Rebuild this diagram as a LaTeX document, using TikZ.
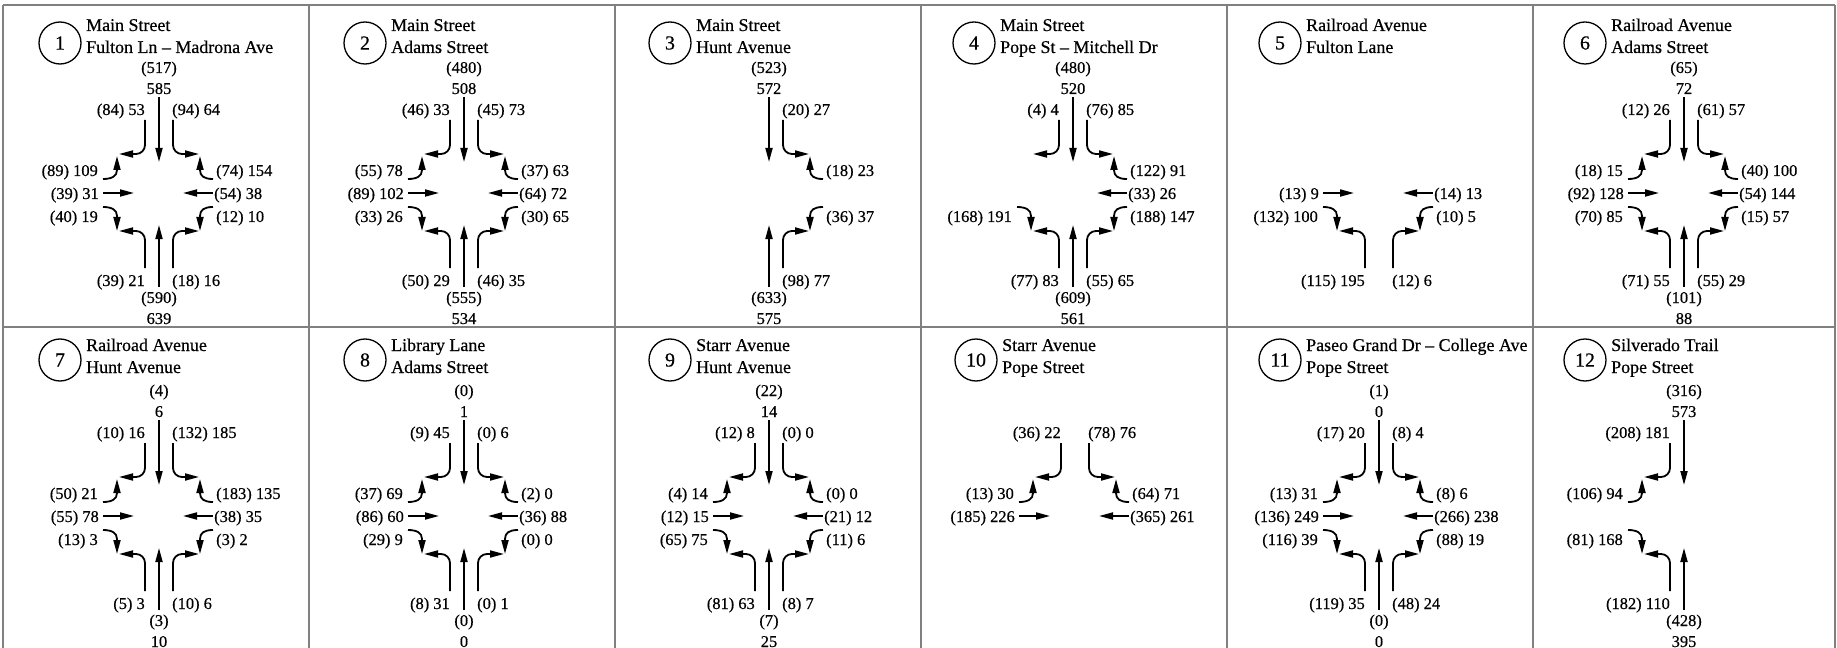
\documentclass[tikz,border=0pt]{standalone}
\usepackage{fontspec}
\setmainfont[FakeBold=0.5]{Liberation Serif}
\usetikzlibrary{arrows.meta}
\newcommand\vfnum{\fontsize{16.5}{19}\selectfont}
\newcommand\vftitle{\fontsize{18}{21}\selectfont}
\newcommand\vfcirc{\fontsize{20}{22}\selectfont}
\tikzset{
  mv/.style={line width=1.8bp,-{Triangle[length=14bp,width=7bp]}},
  lbl/.style={font=\vfnum,inner sep=0pt},
  gridline/.style={draw=black!50,line width=2bp},
  ring/.style={draw,circle,line width=1.3bp,minimum size=42bp,inner sep=0pt,font=\vfcirc},
  ttl/.style={font=\vftitle,inner sep=0pt,anchor=base west},
}
% movements (relative to intersection centre, y downwards)
\newcommand\SBT[2]{\draw[mv] (0,-96) -- (0,-31);
  \node[lbl,anchor=base] (\pp sbtb) at (0,-120) {#1};
  \node[lbl,anchor=base] (\pp sbta) at (0,-99) {#2};}
\newcommand\NBT[2]{\draw[mv] (0,94) -- (0,32);
  \node[lbl,anchor=base] (\pp nbtb) at (0,110) {#1};
  \node[lbl,anchor=base] (\pp nbta) at (0,131) {#2};}
\newcommand\SBR[1]{\draw[mv,rounded corners=9bp] (-14,-73) |- (-40,-39);
  \node[lbl,anchor=base east] (\pp sbr) at (-14,-78) {#1};}
\newcommand\SBL[1]{\draw[mv,rounded corners=9bp] (14,-73) |- (40,-39);
  \node[lbl,anchor=base west] (\pp sbl) at (13,-78) {#1};}
\newcommand\NBL[1]{\draw[mv,rounded corners=9bp] (-14,75) |- (-40,38);
  \node[lbl,anchor=base east] (\pp nbl) at (-14,93) {#1};}
\newcommand\NBR[1]{\draw[mv,rounded corners=9bp] (14,75) |- (40,38);
  \node[lbl,anchor=base west] (\pp nbr) at (13,93) {#1};}
\newcommand\EBL[1]{\draw[mv] (-56,-14) .. controls (-47,-14) and (-42,-17) .. (-42,-23) -- (-42,-37);
  \node[lbl,anchor=base east] (\pp ebl) at (-61,-17) {#1};}
\newcommand\EBT[1]{\draw[mv] (-56,0) -- (-25,0);
  \node[lbl,anchor=base east] (\pp ebt) at (-60,6) {#1};}
\newcommand\EBR[1]{\draw[mv] (-56,14) .. controls (-47,14) and (-42,17) .. (-42,23) -- (-42,38);
  \node[lbl,anchor=base east] (\pp ebr) at (-61,29) {#1};}
\newcommand\WBR[1]{\draw[mv] (54,-14) .. controls (45,-14) and (41,-17) .. (41,-23) -- (41,-37);
  \node[lbl,anchor=base west] (\pp wbr) at (57,-17) {#1};}
\newcommand\WBT[1]{\draw[mv] (54,0) -- (24,0);
  \node[lbl,anchor=base west] (\pp wbt) at (55,6) {#1};}
\newcommand\WBL[1]{\draw[mv] (54,14) .. controls (45,14) and (41,17) .. (41,23) -- (41,38);
  \node[lbl,anchor=base west] (\pp wbl) at (57,29) {#1};}
% header: prefix, centre x, number, line 1, line 2 (row values in \cyc,\tya,\tyb)
\newcommand\phead[5]{%
  \node[ring] (#1c) at (#2-99,\cyc) {#3};
  \node[ttl] (#1ta) at (#2-73,\tya) {#4};
  \node[ttl] (#1tb) at (#2-73,\tyb) {#5};}
\begin{document}
\begin{tikzpicture}[x=1bp,y=-1bp]
\useasboundingbox (0,0) rectangle (1837,648);
\fill[white] (0,0) rectangle (1837,648);
% grid
\draw[gridline] (3,5) -- (1835,5);
\draw[gridline] (3,327) -- (1835,327);
\foreach \gx in {3,309,615,921,1227,1533,1835} {\draw[gridline] (\gx,5) -- (\gx,652);}
% ---------------- row 1
\def\cyc{43}\def\tya{31}\def\tyb{53}
\phead{p1}{159}{1}{Main Street}{Fulton Ln -- Madrona Ave}
\phead{p2}{464}{2}{Main Street}{Adams Street}
\phead{p3}{769}{3}{Main Street}{Hunt Avenue}
\phead{p4}{1073}{4}{Main Street}{Pope St -- Mitchell Dr}
\phead{p5}{1379}{5}{Railroad Avenue}{Fulton Lane}
\phead{p6}{1684}{6}{Railroad Avenue}{Adams Street}
\begin{scope}[shift={(159,193)}]\def\pp{p1}
\SBT{(517)}{585}\SBR{(84) 53}\SBL{(94) 64}
\EBL{(89) 109}\EBT{(39) 31}\EBR{(40) 19}
\WBR{(74) 154}\WBT{(54) 38}\WBL{(12) 10}
\NBL{(39) 21}\NBR{(18) 16}\NBT{(590)}{639}
\end{scope}
\begin{scope}[shift={(464,193)}]\def\pp{p2}
\SBT{(480)}{508}\SBR{(46) 33}\SBL{(45) 73}
\EBL{(55) 78}\EBT{(89) 102}\EBR{(33) 26}
\WBR{(37) 63}\WBT{(64) 72}\WBL{(30) 65}
\NBL{(50) 29}\NBR{(46) 35}\NBT{(555)}{534}
\end{scope}
\begin{scope}[shift={(769,193)}]\def\pp{p3}
\SBT{(523)}{572}\SBL{(20) 27}
\WBR{(18) 23}\WBL{(36) 37}
\NBR{(98) 77}\NBT{(633)}{575}
\end{scope}
\begin{scope}[shift={(1073,193)}]\def\pp{p4}
\SBT{(480)}{520}\SBR{(4) 4}\SBL{(76) 85}
\EBR{(168) 191}
\WBR{(122) 91}\WBT{(33) 26}\WBL{(188) 147}
\NBL{(77) 83}\NBR{(55) 65}\NBT{(609)}{561}
\end{scope}
\begin{scope}[shift={(1379,193)}]\def\pp{p5}
\EBT{(13) 9}\EBR{(132) 100}
\WBT{(14) 13}\WBL{(10) 5}
\NBL{(115) 195}\NBR{(12) 6}
\end{scope}
\begin{scope}[shift={(1684,193)}]\def\pp{p6}
\SBT{(65)}{72}\SBR{(12) 26}\SBL{(61) 57}
\EBL{(18) 15}\EBT{(92) 128}\EBR{(70) 85}
\WBR{(40) 100}\WBT{(54) 144}\WBL{(15) 57}
\NBL{(71) 55}\NBR{(55) 29}\NBT{(101)}{88}
\end{scope}
% ---------------- row 2
\def\cyc{360}\def\tya{351}\def\tyb{373}
\phead{p7}{159}{7}{Railroad Avenue}{Hunt Avenue}
\phead{p8}{464}{8}{Library Lane}{Adams Street}
\phead{p9}{769}{9}{Starr Avenue}{Hunt Avenue}
\phead{p10}{1075}{10}{Starr Avenue}{Pope Street}
\phead{p11}{1379}{11}{Paseo Grand Dr -- College Ave}{Pope Street}
\phead{p12}{1684}{12}{Silverado Trail}{Pope Street}
\begin{scope}[shift={(159,516)}]\def\pp{p7}
\SBT{(4)}{6}\SBR{(10) 16}\SBL{(132) 185}
\EBL{(50) 21}\EBT{(55) 78}\EBR{(13) 3}
\WBR{(183) 135}\WBT{(38) 35}\WBL{(3) 2}
\NBL{(5) 3}\NBR{(10) 6}\NBT{(3)}{10}
\end{scope}
\begin{scope}[shift={(464,516)}]\def\pp{p8}
\SBT{(0)}{1}\SBR{(9) 45}\SBL{(0) 6}
\EBL{(37) 69}\EBT{(86) 60}\EBR{(29) 9}
\WBR{(2) 0}\WBT{(36) 88}\WBL{(0) 0}
\NBL{(8) 31}\NBR{(0) 1}\NBT{(0)}{0}
\end{scope}
\begin{scope}[shift={(769,516)}]\def\pp{p9}
\SBT{(22)}{14}\SBR{(12) 8}\SBL{(0) 0}
\EBL{(4) 14}\EBT{(12) 15}\EBR{(65) 75}
\WBR{(0) 0}\WBT{(21) 12}\WBL{(11) 6}
\NBL{(81) 63}\NBR{(8) 7}\NBT{(7)}{25}
\end{scope}
\begin{scope}[shift={(1075,516)}]\def\pp{p10}
\SBR{(36) 22}\SBL{(78) 76}
\EBL{(13) 30}\EBT{(185) 226}
\WBR{(64) 71}\WBT{(365) 261}
\end{scope}
\begin{scope}[shift={(1379,516)}]\def\pp{p11}
\SBT{(1)}{0}\SBR{(17) 20}\SBL{(8) 4}
\EBL{(13) 31}\EBT{(136) 249}\EBR{(116) 39}
\WBR{(8) 6}\WBT{(266) 238}\WBL{(88) 19}
\NBL{(119) 35}\NBR{(48) 24}\NBT{(0)}{0}
\end{scope}
\begin{scope}[shift={(1684,516)}]\def\pp{p12}
\SBT{(316)}{573}\SBR{(208) 181}
\EBL{(106) 94}\EBR{(81) 168}
\NBL{(182) 110}\NBT{(428)}{395}
\end{scope}
\end{tikzpicture}
\end{document}
